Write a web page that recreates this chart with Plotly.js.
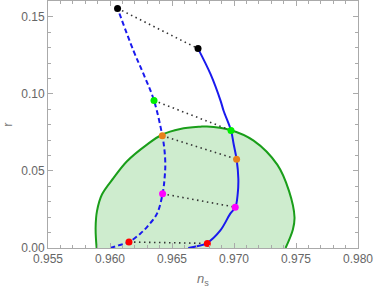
<!DOCTYPE html>
<html><head><meta charset="utf-8">
<script src="https://cdn.plot.ly/plotly-3.0.1.min.js"></script>
<style>html,body{margin:0;padding:0;background:#fff}</style>
</head><body><div id="chart" style="width:374px;height:288px"></div>
<script>
// Green allowed region (upper boundary, left to right)
const regionNs = [0.95892,0.95884,0.95895,0.95935,0.96029,0.96137,0.96298,0.96419,0.96567,0.96728,0.96782,0.96970,0.97158,0.97349,0.97444,0.97488,0.97475,0.97416];
const regionR  = [0,0.0132,0.0239,0.0347,0.0455,0.0563,0.0671,0.0735,0.0772,0.0787,0.0789,0.0766,0.0697,0.0541,0.0369,0.0200,0.0120,0];
// Dashed blue curve
const dashNs = [0.96003,0.96069,0.96153,0.96244,0.96298,0.96379,0.96424,0.96440,0.96446,0.96438,0.96422,0.96355,0.96271,0.96190,0.96061];
const dashR  = [0,0.0017,0.0039,0.0093,0.0136,0.0223,0.0352,0.0451,0.0546,0.0645,0.0729,0.0957,0.1128,0.1279,0.1555];
// Solid blue curve
const solidNs = [0.96631,0.96702,0.96782,0.96890,0.96970,0.97011,0.97030,0.97035,0.97021,0.96997,0.96976,0.96916,0.96892,0.96811,0.96710];
const solidR  = [0,0.0011,0.0032,0.0114,0.0223,0.0265,0.0352,0.0450,0.0576,0.0675,0.0763,0.0891,0.0955,0.1128,0.1294];
// Marker pairs (left on dashed, right on solid)
const pairColors = ['#000000','#00ee00','#e8801a','#ff00ff','#ff0000'];
const leftNs  = [0.96061,0.96355,0.96422,0.96424,0.96153];
const leftR   = [0.1555,0.0957,0.0729,0.0352,0.0039];
const rightNs = [0.96710,0.96976,0.97021,0.97010,0.96785];
const rightR  = [0.1294,0.0763,0.0576,0.0265,0.0030];

const traces = [];
traces.push({x: regionNs, y: regionR, mode:'lines', fill:'toself', fillcolor:'rgba(30,170,30,0.22)', line:{width:0, shape:'spline'}, hoverinfo:'skip'});
traces.push({x: regionNs, y: regionR, mode:'lines', line:{color:'#1a9e1a', width:2, shape:'spline'}, hoverinfo:'skip'});
traces.push({x: dashNs, y: dashR, mode:'lines', line:{color:'#1a1aee', width:2, dash:'5px,3px', shape:'spline'}});
traces.push({x: solidNs, y: solidR, mode:'lines', line:{color:'#1a1aee', width:2, shape:'spline'}});
for (let i=0;i<leftNs.length;i++){
  traces.push({x:[leftNs[i],rightNs[i]], y:[leftR[i],rightR[i]], mode:'lines', line:{color:'#333', width:1.6, dash:'1.5px,3.5px'}});
}
for (let i=0;i<leftNs.length;i++){
  traces.push({x:[leftNs[i],rightNs[i]], y:[leftR[i],rightR[i]], mode:'markers', marker:{color:pairColors[i], size:7}});
}

const fontFam = 'Liberation Sans, Arial, sans-serif';
const axisCommon = {showline:true, linecolor:'#aaaaaa', linewidth:1, mirror:'ticks', ticks:'inside', ticklen:5, tickcolor:'#aaaaaa', showgrid:false, zeroline:false, tickfont:{family:fontFam, size:12, color:'#666'}};
const layout = {
  width:374, height:288, margin:{l:48, r:16, t:1, b:40},
  showlegend:false, paper_bgcolor:'#fff', plot_bgcolor:'#fff',
  xaxis: Object.assign({}, axisCommon, {range:[0.955,0.98], tickvals:[0.955,0.96,0.965,0.97,0.975,0.98], ticktext:['0.955','0.960','0.965','0.970','0.975','0.980'],
    minor:{ticks:'inside', dtick:0.001, ticklen:3, tickcolor:'#aaaaaa'},
    title:{text:'<i>n</i><sub>s</sub>', font:{family:fontFam, size:13, color:'#777'}, standoff:12}}),
  yaxis: Object.assign({}, axisCommon, {range:[0,0.1603], tickvals:[0,0.05,0.1,0.15], ticktext:['0.00','0.05','0.10','0.15'],
    minor:{ticks:'inside', dtick:0.01, ticklen:3, tickcolor:'#aaaaaa'},
    title:{text:'r', font:{family:fontFam, size:13, color:'#777'}, standoff:6}})
};
Plotly.newPlot('chart', traces, layout, {staticPlot:true, displayModeBar:false});
</script></body></html>
